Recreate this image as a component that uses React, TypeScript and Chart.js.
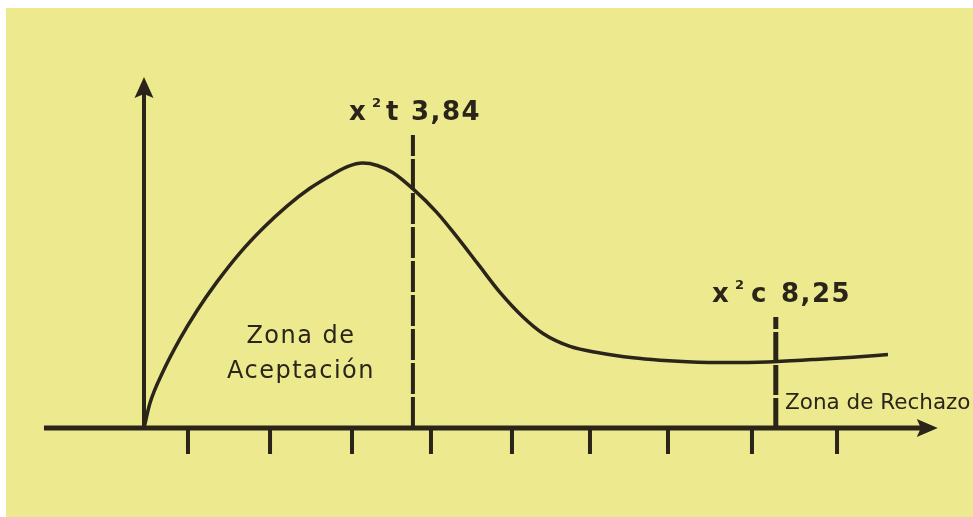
import React, { useEffect, useRef } from 'react';
import { Chart, registerables } from 'chart.js';

Chart.register(...registerables);

// ---- data ----
const curveX = [0, 0.074, 0.235, 0.444, 0.654, 0.901, 1.185, 1.469, 1.762, 2.049, 2.333, 2.52, 2.70, 2.88, 3.074, 3.321, 3.617, 3.864, 4.111, 4.395, 4.679, 4.926, 5.259, 5.63, 6.037, 6.37, 6.704, 7.2, 7.691, 8.259, 8.753, 9.185];
const curveY = [0, 0.083, 0.188, 0.297, 0.391, 0.487, 0.584, 0.666, 0.739, 0.799, 0.846, 0.872, 0.883, 0.875, 0.851, 0.797, 0.718, 0.637, 0.551, 0.452, 0.37, 0.315, 0.272, 0.25, 0.234, 0.226, 0.221, 0.218, 0.22, 0.228, 0.236, 0.245];
const tickValues = [0.543, 1.556, 2.568, 3.543, 4.543, 5.506, 6.469, 7.506, 8.556];
const tickDepth = 0.087;
const axisXStart = -1.235;
const axisXEnd = 9.8;
const axisYEnd = 1.17;
const criticalTable = 3.32;      // x² t 3,84
const criticalTableTop = 0.977;
const criticalCalc = 7.8;        // x² c 8,25
const criticalCalcTop = 0.37;
const labelTable = ['x', '2', 't', '3,84'];
const labelCalc = ['x', '2', 'c', '8,25'];
const zoneAccept = ['Zona de', 'Aceptación'];
const zoneReject = 'Zona de Rechazo';

// ---- view / style ----
const X_MIN = -1.7037, X_MAX = 10.2346, Y_MIN = -0.2967, Y_MAX = 1.4;
const INK = '#2b2519';
const YELLOW = '#ECE98F';
const W = 967, H = 509;

function arrowHead(ctx: CanvasRenderingContext2D, tx: number, ty: number, dx: number, dy: number, len: number, half: number, notch: number) {
  const nx = -dy, ny = dx;
  ctx.beginPath();
  ctx.moveTo(tx, ty);
  ctx.lineTo(tx - len * dx + half * nx, ty - len * dy + half * ny);
  ctx.lineTo(tx - (len - notch) * dx, ty - (len - notch) * dy);
  ctx.lineTo(tx - len * dx - half * nx, ty - len * dy - half * ny);
  ctx.closePath();
  ctx.fill();
}

function chiLabel(ctx: CanvasRenderingContext2D, x0: number, base: number, parts: string[], offs: number[]) {
  ctx.textAlign = 'left';
  ctx.textBaseline = 'alphabetic';
  (ctx as any).letterSpacing = '1.5px';
  ctx.font = 'bold 26px "DejaVu Sans"';
  ctx.fillText(parts[0], x0 + offs[0], base);
  (ctx as any).letterSpacing = '0px';
  ctx.font = 'bold 13px "DejaVu Sans"';
  ctx.fillText(parts[1], x0 + offs[1], base - 13);
  (ctx as any).letterSpacing = '1.5px';
  ctx.font = 'bold 26px "DejaVu Sans"';
  ctx.fillText(parts[2], x0 + offs[2], base);
  ctx.fillText(parts[3], x0 + offs[3], base);
}

const overlay = {
  id: 'overlay',
  afterDatasetsDraw(chart: any) {
    const ctx: CanvasRenderingContext2D = chart.ctx;
    const xs = chart.scales.x, ys = chart.scales.y;
    const px = (v: number) => xs.getPixelForValue(v);
    const py = (v: number) => ys.getPixelForValue(v);
    ctx.save();
    ctx.fillStyle = INK;
    arrowHead(ctx, px(axisXEnd), py(0), 1, 0, 21, 9, 4);
    arrowHead(ctx, px(0), py(axisYEnd), 0, -1, 21, 9.5, 4);

    chiLabel(ctx, px(2.543), py(1.027), labelTable, [-1, 22, 36, 61]);
    chiLabel(ctx, px(7.025), py(0.42), labelCalc, [-1, 22, 38, 68]);

    ctx.font = '24px "DejaVu Sans"';
    (ctx as any).letterSpacing = '1.5px';
    ctx.textAlign = 'center';
    ctx.fillText(zoneAccept[0], px(1.938), py(0.283));
    ctx.fillText(zoneAccept[1], px(1.938), py(0.167));

    (ctx as any).letterSpacing = '0px';
    ctx.textAlign = 'left';
    ctx.font = '21.5px "DejaVu Sans"';
    ctx.fillText(zoneReject, px(7.914), py(0.063));
    ctx.restore();
  },
};

export default function App() {
  const ref = useRef<HTMLCanvasElement>(null);
  useEffect(() => {
    if (!ref.current) return;
    const tickData: any[] = [];
    tickValues.forEach((t) => {
      tickData.push({ x: t, y: 0 }, { x: t, y: -tickDepth }, { x: t, y: null });
    });
    const base = { borderColor: INK, pointRadius: 0, fill: false, clip: false as any };
    const chart = new Chart(ref.current, {
      type: 'line',
      data: {
        datasets: [
          { ...base, label: 'curva', data: curveX.map((x, i) => ({ x, y: curveY[i] })), borderWidth: 3.5, cubicInterpolationMode: 'monotone' },
          { ...base, label: 'x2 t', data: [{ x: criticalTable, y: 0 }, { x: criticalTable, y: criticalTableTop }], borderWidth: 4, borderDash: [31, 3] },
          { ...base, label: 'x2 c', data: [{ x: criticalCalc, y: 0 }, { x: criticalCalc, y: criticalCalcTop }], borderWidth: 5, borderDash: [30, 3] },
          { ...base, label: 'eje x', data: [{ x: axisXStart, y: 0 }, { x: axisXEnd - 0.15, y: 0 }], borderWidth: 5 },
          { ...base, label: 'eje y', data: [{ x: 0, y: 0 }, { x: 0, y: axisYEnd - 0.04 }], borderWidth: 4 },
          { ...base, label: 'marcas', data: tickData, borderWidth: 4, spanGaps: false },
        ] as any,
      },
      options: {
        animation: false,
        responsive: false,
        maintainAspectRatio: false,
        layout: { padding: 0 },
        events: [],
        plugins: { legend: { display: false }, tooltip: { enabled: false } },
        scales: {
          x: { type: 'linear', min: X_MIN, max: X_MAX, display: false },
          y: { type: 'linear', min: Y_MIN, max: Y_MAX, display: false },
        },
      },
      plugins: [overlay],
    });
    return () => chart.destroy();
  }, []);

  return (
    <div style={{ position: 'fixed', left: 0, top: 0, width: 973, height: 517, background: '#ffffff', overflow: 'hidden' }}>
      <canvas
        ref={ref}
        width={W}
        height={H}
        style={{ position: 'absolute', left: 6, top: 8, width: W, height: H, background: YELLOW }}
      />
    </div>
  );
}
